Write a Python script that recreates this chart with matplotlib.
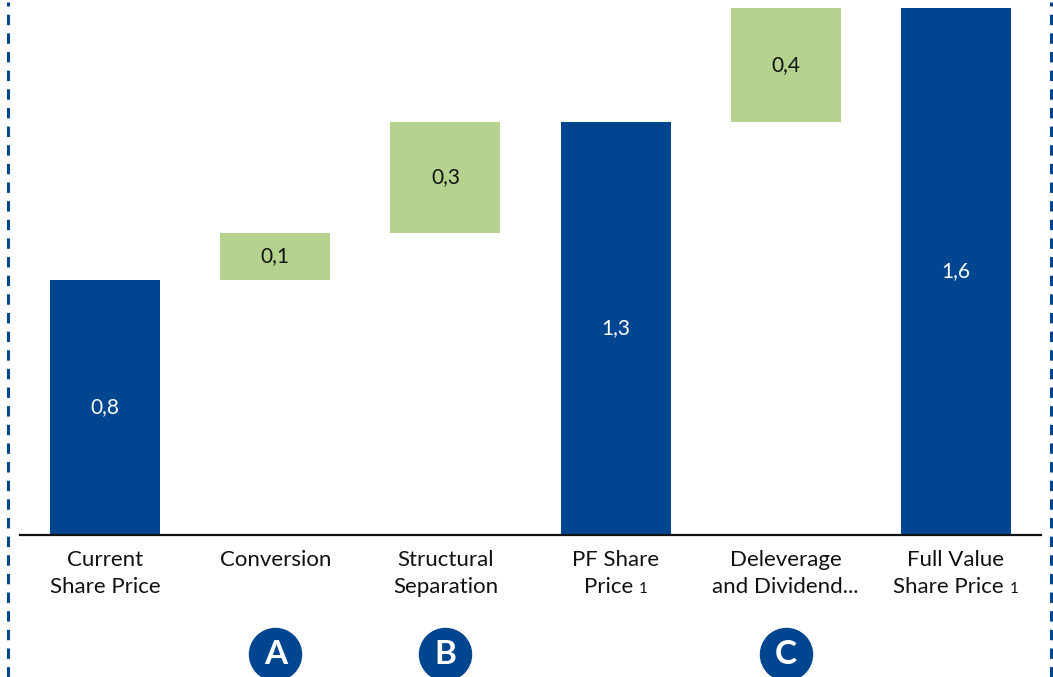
import matplotlib
matplotlib.use("Agg")
import matplotlib.pyplot as plt
import matplotlib.transforms as mtransforms
from matplotlib.lines import Line2D
from matplotlib.offsetbox import TextArea, HPacker, VPacker, AnnotationBbox

plt.rcParams['font.family'] = ['Lato', 'DejaVu Sans']

# ---- data ----
line1 = ["Current", "Conversion", "Structural", "PF Share", "Deleverage", "Full Value"]
line2 = ["Share Price", "", "Separation", "Price", "and Dividend...", "Share Price"]
footnotes = ["", "", "", "1", "", "1"]
kinds = ["total", "delta", "delta", "total", "delta", "total"]
values = [0.80, 0.147, 0.349, 1.296, 0.357, 1.653]
value_labels = ["0,8", "0,1", "0,3", "1,3", "0,4", "1,6"]
markers = ["", "A", "B", "", "C", ""]

BLUE = "#00458f"
GREEN = "#b5d38f"
TXT = "#111111"

W, H = 1053, 677
fig = plt.figure(figsize=(W / 100, H / 100), dpi=100)
ax = fig.add_axes([20 / W, 142 / H, 1021 / W, 535 / H])

# waterfall bottoms
bottoms, heights = [], []
running = 0.0
for k, v in zip(kinds, values):
    if k == "total":
        bottoms.append(0.0)
        heights.append(v)
        running = v
    else:
        bottoms.append(running)
        heights.append(v)
        running += v

x = list(range(len(values)))
colors = [BLUE if k == "total" else GREEN for k in kinds]
ax.bar(x, heights, bottom=bottoms, width=0.646, color=colors, edgecolor="none", zorder=2)

for xi, b, h, lab, k in zip(x, bottoms, heights, value_labels, kinds):
    ax.text(xi, b + h / 2, lab, ha="center", va="center", fontsize=15,
            color="white" if k == "total" else TXT, zorder=3)

ax.set_xlim(-0.5, len(values) - 0.5)
ax.set_ylim(0, 535 / 318.75)
for s in ["top", "left", "right"]:
    ax.spines[s].set_visible(False)
ax.spines["bottom"].set_linewidth(1.6)
ax.spines["bottom"].set_color(TXT)
ax.set_xticks([])
ax.set_yticks([])

# category labels
blend = mtransforms.blended_transform_factory(ax.transData, fig.transFigure)
for xi, l1, l2, fn in zip(x, line1, line2, footnotes):
    rows = [TextArea(l1, textprops=dict(fontsize=16, color=TXT))]
    if l2:
        parts = [TextArea(l2, textprops=dict(fontsize=16, color=TXT))]
        if fn:
            parts.append(TextArea(fn, textprops=dict(fontsize=11, color=TXT)))
        rows.append(HPacker(children=parts, align="baseline", pad=0, sep=4))
    box = VPacker(children=rows, align="center", pad=0, sep=5)
    ab = AnnotationBbox(box, (xi, 1 - 550 / H), xycoords=blend, box_alignment=(0.5, 1),
                        frameon=False, pad=0, annotation_clip=False)
    ax.add_artist(ab)

# circled letters
for xi, m in zip(x, markers):
    if m:
        ax.scatter([xi], [1 - 654 / H], s=1480, color=BLUE, transform=blend,
                   clip_on=False, zorder=4, linewidths=0)
        ax.text(xi, 1 - 654 / H, m, transform=blend, ha="center", va="center",
                fontsize=24, fontweight="bold", color="white", zorder=5)

# dashed frame sides
for xf in [8 / W, 1051 / W]:
    fig.add_artist(Line2D([xf, xf], [0, 1 - 2 / H], transform=fig.transFigure,
                          color=BLUE, lw=2.2, linestyle=(0, (3.4, 2.7))))

fig.savefig("out.png", dpi=100)
